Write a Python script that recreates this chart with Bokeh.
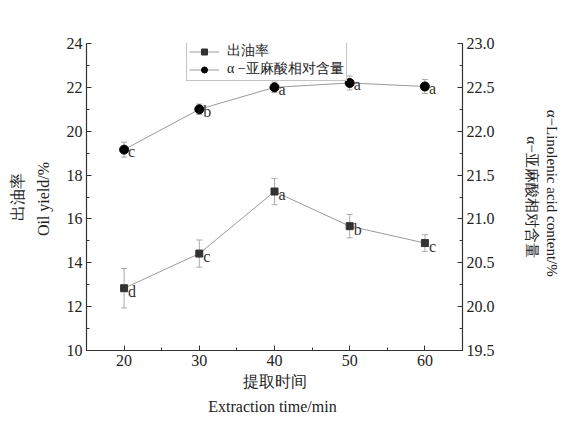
import math
from bokeh.plotting import figure
from bokeh.models import (ColumnDataSource, Range1d, LinearAxis, SingleIntervalTicker,
                          NumeralTickFormatter, Whisker, TeeHead, Legend, LegendItem)
from bokeh.core.properties import value
from bokeh.embed import file_html
from bokeh.resources import INLINE

# ---- data ----
time_min = [20, 30, 40, 50, 60]
oil_yield = [12.84, 14.42, 17.25, 15.67, 14.90]
oil_err = [0.90, 0.62, 0.60, 0.53, 0.38]
oil_letters = ["d", "c", "a", "b", "c"]
ala_content = [21.79, 22.25, 22.50, 22.55, 22.51]
ala_err = [0.085, 0.06, 0.06, 0.08, 0.08]
ala_letters = ["c", "b", "a", "a", "a"]

oil_src = ColumnDataSource(dict(
    x=time_min, y=oil_yield, t=oil_letters,
    lo=[v - e for v, e in zip(oil_yield, oil_err)],
    hi=[v + e for v, e in zip(oil_yield, oil_err)]))
ala_src = ColumnDataSource(dict(
    x=time_min, y=ala_content, t=ala_letters,
    lo=[v - e for v, e in zip(ala_content, ala_err)],
    hi=[v + e for v, e in zip(ala_content, ala_err)]))

SERIF = "Liberation Serif"

p = figure(width=563, height=422, output_backend="svg", toolbar_location=None,
           x_range=Range1d(15, 65), y_range=Range1d(10, 24),
           min_border_left=86, min_border_right=98, min_border_top=43, min_border_bottom=72)
p.extra_y_ranges = {"ala": Range1d(19.5, 23.0)}
p.outline_line_color = None
p.xgrid.visible = False
p.ygrid.visible = False

# axes
p.xaxis.ticker = SingleIntervalTicker(interval=10, num_minor_ticks=2)
p.yaxis.ticker = SingleIntervalTicker(interval=2, num_minor_ticks=2)
right = LinearAxis(y_range_name="ala",
                   ticker=SingleIntervalTicker(interval=0.5, num_minor_ticks=2),
                   formatter=NumeralTickFormatter(format="0.0"))
p.add_layout(right, "right")

for ax in [p.xaxis[0], p.yaxis[0], right]:
    ax.axis_line_color = "#333333"
    ax.axis_line_width = 1.2
    ax.major_tick_line_color = "#333333"
    ax.minor_tick_line_color = "#333333"
    ax.major_tick_in = 5
    ax.major_tick_out = 0
    ax.minor_tick_in = 3
    ax.minor_tick_out = 0
    ax.major_label_text_font = SERIF
    ax.major_label_text_font_size = "16px"
    ax.major_label_text_color = "#222222"
    ax.major_label_standoff = 4
    ax.axis_label_text_font = SERIF
    ax.axis_label_text_font_style = "normal"
    ax.axis_label_text_font_size = "16px"
    ax.axis_label_text_color = "#222222"
    ax.axis_label_text_line_height = 1.5

p.yaxis[0].axis_label = "出油率\nOil  yield/%"
p.yaxis[0].axis_label_standoff = 12
p.xaxis[0].axis_label = "提取时间\nExtraction  time/min"
p.xaxis[0].axis_label_standoff = 4
right.axis_label = "α−Linolenic  acid  content/%\nα−亚麻酸相对含量"
right.axis_label_text_font_size = "15px"
right.axis_label_text_line_height = 1.3
right.axis_label_standoff = 26

# series: oil yield (left axis)
oil_line = p.line("x", "y", source=oil_src, line_color="#9a9a9a", line_width=1)
p.add_layout(Whisker(source=oil_src, base="x", upper="hi", lower="lo", dimension="height",
                     line_color="#aaaaaa", line_width=1,
                     upper_head=TeeHead(size=6, line_color="#aaaaaa", line_width=1),
                     lower_head=TeeHead(size=6, line_color="#aaaaaa", line_width=1)))
oil_pts = p.scatter("x", "y", source=oil_src, marker="square", size=7,
                    fill_color="#333333", line_color="#333333")
p.text("x", "y", text="t", source=oil_src, x_offset=4, y_offset=3,
       text_font=value(SERIF), text_font_size="16px", text_color="#333333",
       text_baseline="middle", text_align="left")

# series: alpha-linolenic acid (right axis)
ala_line = p.line("x", "y", source=ala_src, y_range_name="ala", line_color="#9a9a9a", line_width=1)
p.add_layout(Whisker(source=ala_src, base="x", upper="hi", lower="lo", dimension="height",
                     y_range_name="ala", line_color="#aaaaaa", line_width=1,
                     upper_head=TeeHead(size=6, line_color="#aaaaaa", line_width=1),
                     lower_head=TeeHead(size=6, line_color="#aaaaaa", line_width=1)))
ala_pts = p.scatter("x", "y", source=ala_src, y_range_name="ala", marker="circle", size=9,
                    fill_color="black", line_color="black")
p.text("x", "y", text="t", source=ala_src, y_range_name="ala", x_offset=4, y_offset=2,
       text_font=value(SERIF), text_font_size="16px", text_color="#333333",
       text_baseline="middle", text_align="left")

# legend (compact, inside the top of the frame, clear of the data)
legend = Legend(items=[LegendItem(label="出油率", renderers=[oil_line, oil_pts]),
                       LegendItem(label="α −亚麻酸相对含量", renderers=[ala_line, ala_pts])],
                location=(100, 269), orientation="vertical",
                border_line_color="#888888", border_line_width=1,
                background_fill_alpha=1.0, padding=2, spacing=0, margin=0,
                glyph_width=30, glyph_height=15, label_height=15, label_width=0,
                label_standoff=8,
                label_text_font=SERIF, label_text_font_size="14px", label_text_color="#222222")
p.add_layout(legend, "center")

open("out.html", "w").write(file_html(p, INLINE))
